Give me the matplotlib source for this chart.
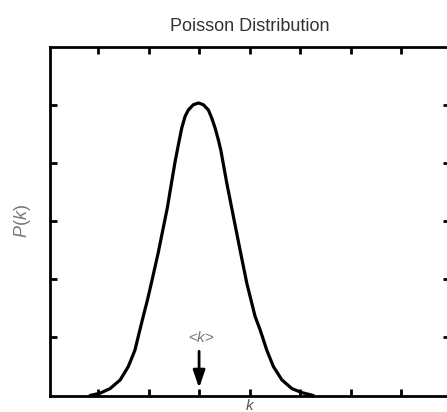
import matplotlib.pyplot as plt

# curve points (k, P(k)) in plot units
k_vals = [0.84, 1.04, 1.24, 1.44, 1.60, 1.73, 1.82, 1.90, 1.98, 2.06, 2.19, 2.29,
          2.37, 2.48, 2.525, 2.59, 2.657, 2.723, 2.788, 2.887, 2.99, 3.085, 3.184,
          3.251, 3.317, 3.38, 3.43, 3.549, 3.679, 3.812, 3.945, 4.109, 4.208, 4.273,
          4.34, 4.47, 4.638, 4.836, 5.034, 5.263]
p_vals = [0.00, 0.04, 0.12, 0.27, 0.50, 0.78, 1.10, 1.38, 1.65, 1.95, 2.45, 2.88,
          3.22, 3.79, 4.02, 4.31, 4.60, 4.80, 4.91, 5.00, 5.03, 5.00, 4.91,
          4.77, 4.60, 4.40, 4.22, 3.65, 3.08, 2.50, 1.93, 1.36, 1.13, 0.96,
          0.78, 0.50, 0.27, 0.12, 0.05, 0.00]

mean_k = 3.0
x_ticks = [1, 2, 3, 4, 5, 6, 7]
y_ticks = [1, 2, 3, 4, 5]

plt.rcParams['font.family'] = ['Liberation Sans', 'DejaVu Sans']
plt.rcParams['mathtext.fontset'] = 'custom'
plt.rcParams['mathtext.it'] = 'Liberation Sans:italic'
plt.rcParams['mathtext.rm'] = 'Liberation Sans'

fig = plt.figure(figsize=(4.47, 4.12), dpi=100)
ax = fig.add_axes([0.112, 0.040, 0.895, 0.847])

ax.plot(k_vals, p_vals, color='black', lw=2.3, solid_joinstyle='round',
        solid_capstyle='round')

# arrow marking the mean
ax.annotate('', xy=(mean_k, 0.13), xytext=(mean_k, 0.76),
            arrowprops=dict(arrowstyle='-|>,head_width=0.36,head_length=1.05',
                            color='black', lw=2.0, shrinkA=0, shrinkB=0,
                            mutation_scale=10))
ax.text(mean_k + 0.05, 1.0, '<$k$>', ha='center', va='center',
        fontsize=11, color='#777777')

ax.set_xlim(0.05, 7.97)
ax.set_ylim(0, 6)
ax.set_xticks(x_ticks)
ax.set_yticks(y_ticks)
ax.tick_params(direction='in', length=5, width=2, top=True, right=True,
               labelbottom=False, labelleft=False, color='black')
for s in ax.spines.values():
    s.set_linewidth(2)

ax.set_title('Poisson Distribution', fontsize=13, color='#333333', pad=11)
ax.set_ylabel('$P$($k$)', fontsize=13, color='#777777', labelpad=12)
ax.set_xlabel('$k$', fontsize=11, color='#555555', labelpad=2)

fig.savefig('out.png', dpi=100)
